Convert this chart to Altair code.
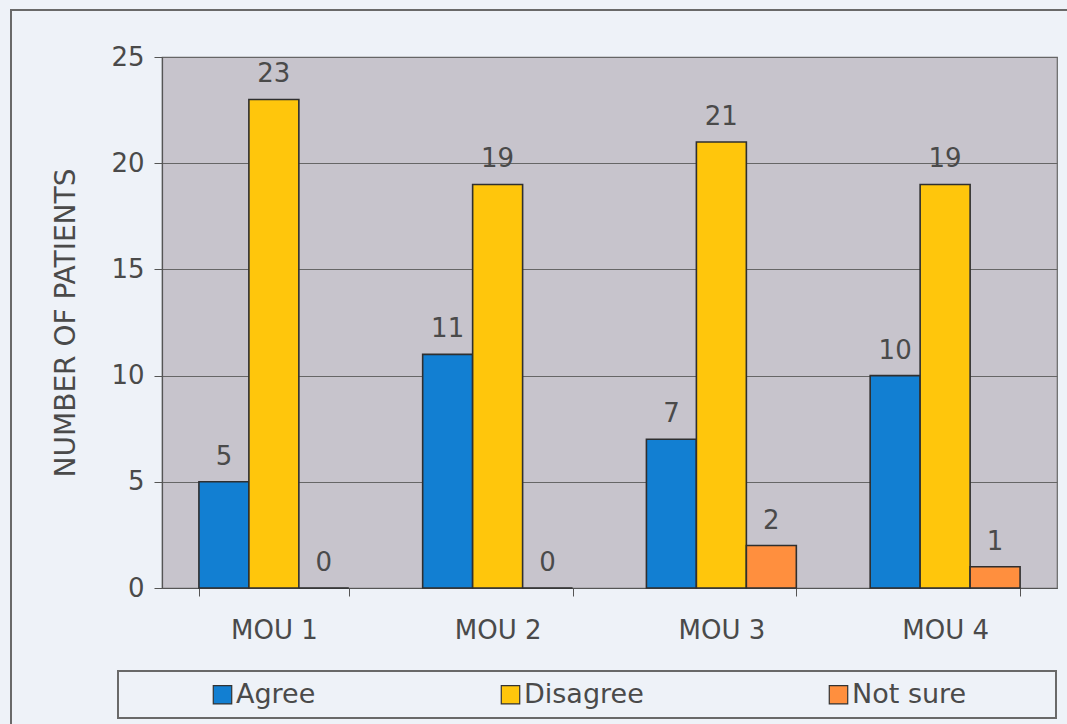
import altair as alt
import pandas as pd

# Survey responses per MOU statement
categories = ["MOU 1", "MOU 2", "MOU 3", "MOU 4"]
responses = ["Agree", "Disagree", "Not sure"]
agree = [5, 11, 7, 10]
disagree = [23, 19, 21, 19]
not_sure = [0, 0, 2, 1]
colors = ["#127fd2", "#ffc60c", "#ff8f3e"]

rows = []
for i, cat in enumerate(categories):
    for resp, vals in zip(responses, [agree, disagree, not_sure]):
        rows.append({"mou": cat, "response": resp, "patients": vals[i]})
df = pd.DataFrame(rows)

FONT = "DejaVu Sans"
TEXT = "#4a4a4a"
FS = 26
W, H = 895, 531

x_enc = alt.X(
    "mou:N",
    sort=categories,
    title=None,
    scale=alt.Scale(paddingInner=0.33, paddingOuter=0.165),
    axis=alt.Axis(
        tickBand="extent",
        labelAngle=0,
        labelFontSize=FS,
        labelPadding=21,
        labelColor=TEXT,
        labelFont=FONT,
        tickSize=8,
        tickColor="#555",
        domainColor="#555",
        domainWidth=1.2,
        grid=False,
    ),
)
xoff = alt.XOffset("response:N", sort=responses)
y_enc = alt.Y(
    "patients:Q",
    title="NUMBER OF PATIENTS",
    scale=alt.Scale(domain=[0, 25], nice=False),
    axis=alt.Axis(
        values=[0, 5, 10, 15, 20, 25],
        labelFontSize=FS,
        labelColor=TEXT,
        labelFont=FONT,
        labelPadding=10,
        tickSize=8,
        tickColor="#555",
        domainColor="#555",
        domainWidth=1.2,
        gridColor="#666",
        gridWidth=1.2,
        titleFontSize=28,
        titleFont=FONT,
        titleFontWeight="normal",
        titleColor=TEXT,
        titlePadding=30,
    ),
)

bars = alt.Chart(df).mark_bar(stroke="#2f2f2f", strokeWidth=1.6).encode(
    x=x_enc,
    xOffset=xoff,
    y=y_enc,
    color=alt.Color(
        "response:N",
        sort=responses,
        scale=alt.Scale(domain=responses, range=colors),
        legend=alt.Legend(
            title=None,
            orient="none",
            legendX=47,
            legendY=624,
            direction="horizontal",
            columns=3,
            columnPadding=181,
            symbolType="square",
            symbolSize=340,
            symbolStrokeColor="#333",
            symbolStrokeWidth=1.2,
            symbolOpacity=1,
            labelFontSize=27,
            labelFont=FONT,
            labelColor=TEXT,
            labelOffset=0,
        ),
    ),
)

labels = alt.Chart(df).mark_text(
    baseline="bottom", dy=-12, fontSize=FS, font=FONT, color=TEXT
).encode(
    x=alt.X("mou:N", sort=categories),
    xOffset=xoff,
    y="patients:Q",
    text="patients:Q",
)

# Frame around the legend row and outer frame of the figure
legend_box = alt.Chart(df).mark_rect(
    fill=None, stroke="#6a6a6a", strokeWidth=1.3
).encode(
    x=alt.value(-44), x2=alt.value(W - 1), y=alt.value(614), y2=alt.value(661)
)
outer_box = alt.Chart(df).mark_rect(
    fill=None, stroke="#6a6a6a", strokeWidth=1.3
).encode(
    x=alt.value(-151), x2=alt.value(W + 30), y=alt.value(-47), y2=alt.value(H + 200)
)

chart = (
    alt.layer(bars, labels, legend_box, outer_box)
    .properties(
        width=W,
        height=H,
        autosize=alt.AutoSizeParams(type="none"),
        padding={"left": 162, "top": 57, "right": 10, "bottom": 136},
        background="#eef2f8",
    )
    .configure_view(fill="#c7c4cc", stroke="#666", strokeWidth=1.2)
)

chart.save("out.html", embed_options={"renderer": "svg", "actions": False})
